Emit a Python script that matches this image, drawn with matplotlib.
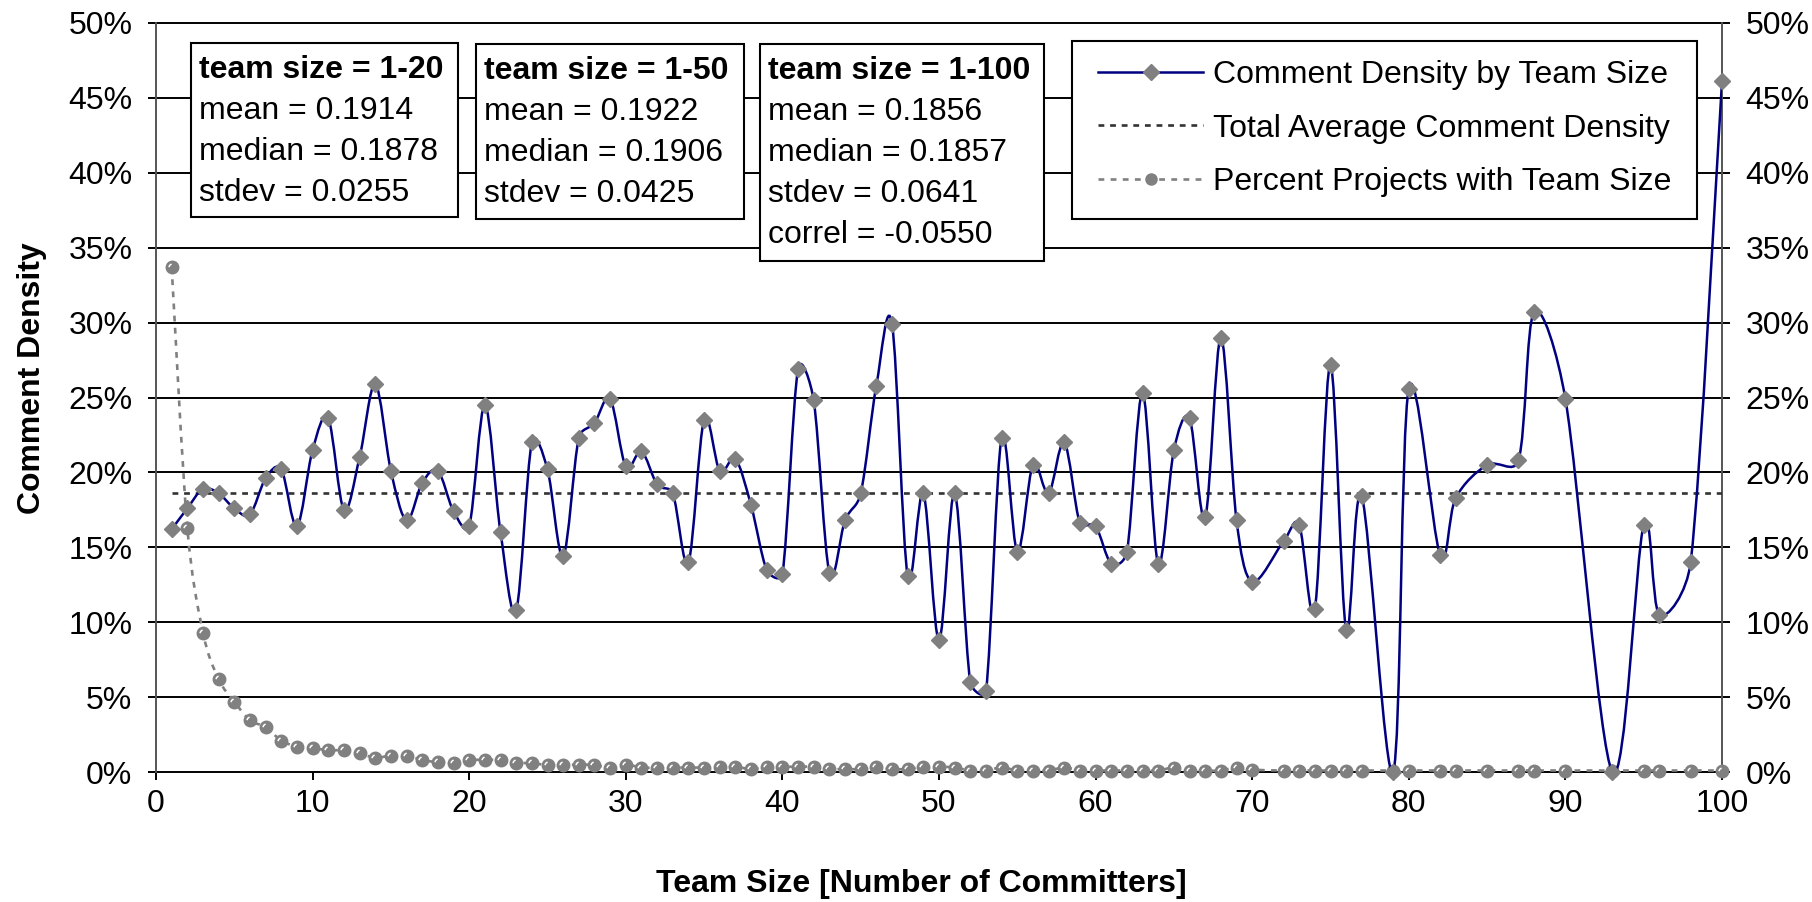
import matplotlib
matplotlib.use("Agg")
import matplotlib.pyplot as plt
import numpy as np
from matplotlib.path import Path
from matplotlib.patches import PathPatch, Rectangle
from matplotlib.lines import Line2D
from matplotlib.ticker import FuncFormatter

plt.rcParams['font.family'] = ['Liberation Sans', 'DejaVu Sans']

# Datos (densidad y porcentaje en %)
team_size = list(range(1, 71)) + [72, 73, 74, 75, 76, 77, 79, 80, 82, 83, 85,
                                   87, 88, 90, 93, 95, 96, 98, 100]

comment_density = [
    16.2, 17.6, 18.9, 18.6, 17.6, 17.2, 19.6, 20.2, 16.4, 21.5,
    23.6, 17.5, 21.0, 25.9, 20.1, 16.8, 19.3, 20.1, 17.4, 16.4,
    24.5, 16.0, 10.8, 22.0, 20.2, 14.4, 22.3, 23.3, 24.9, 20.4,
    21.4, 19.2, 18.6, 14.0, 23.5, 20.1, 20.9, 17.8, 13.5, 13.2,
    26.9, 24.8, 13.3, 16.8, 18.6, 25.8, 29.9, 13.1, 18.6, 8.8,
    18.6, 6.0, 5.4, 22.3, 14.7, 20.5, 18.6, 22.0, 16.6, 16.4,
    13.9, 14.7, 25.3, 13.9, 21.5, 23.6, 17.0, 29.0, 16.8, 12.7,
    15.4, 16.5, 10.9, 27.2, 9.5, 18.4, 0.0, 25.6, 14.5, 18.3,
    20.5, 20.8, 30.7, 24.9, 0.0, 16.5, 10.5, 14.0, 46.1,
]

pct_projects = [
    33.7, 16.3, 9.3, 6.2, 4.7, 3.45, 3.0, 2.1, 1.7, 1.6,
    1.45, 1.45, 1.25, 0.95, 1.1, 1.1, 0.8, 0.65, 0.6, 0.8,
    0.8, 0.8, 0.6, 0.6, 0.45, 0.45, 0.5, 0.45, 0.3, 0.5,
    0.3, 0.3, 0.3, 0.3, 0.3, 0.35, 0.35, 0.2, 0.35, 0.35,
    0.35, 0.35, 0.2, 0.2, 0.2, 0.35, 0.2, 0.2, 0.35, 0.35,
    0.3, 0.1, 0.1, 0.3, 0.1, 0.1, 0.1, 0.3, 0.1, 0.1,
    0.1, 0.1, 0.1, 0.1, 0.3, 0.1, 0.1, 0.1, 0.3, 0.15,
    0.1, 0.1, 0.1, 0.1, 0.1, 0.1, 0.1, 0.1, 0.1, 0.1,
    0.1, 0.1, 0.1, 0.1, 0.1, 0.1, 0.1, 0.1, 0.1,
]

avg_density = 18.64

legend_labels = ["Comment Density by Team Size",
                 "Total Average Comment Density",
                 "Percent Projects with Team Size"]

stat_titles = ["team size = 1-20", "team size = 1-50", "team size = 1-100"]
stat_lines = [
    ["mean = 0.1914", "median = 0.1878", "stdev = 0.0255"],
    ["mean = 0.1922", "median = 0.1906", "stdev = 0.0425"],
    ["mean = 0.1856", "median = 0.1857", "stdev = 0.0641", "correl = -0.0550"],
]

W, H = 1812, 902
FS = 23
SX, SY = 15.66, 14.98   # pixeles por unidad en x y por 1% en y


def curva_suave(x, y):
    # bezier tipo Excel: brazo = tangente/6, limitado a la mitad del tramo
    p = np.column_stack([np.asarray(x, float), np.asarray(y, float)])
    esc = np.array([SX, SY])
    n = len(p)
    verts = [tuple(p[0])]
    codes = [Path.MOVETO]
    for i in range(n - 1):
        a = p[i - 1] if i > 0 else p[i]
        d = p[i + 2] if i < n - 2 else p[i + 1]
        tramo = np.hypot(*((p[i + 1] - p[i]) * esc))
        b1 = (p[i + 1] - a) / 6
        b2 = (d - p[i]) / 6
        for b in (b1, b2):
            lb = np.hypot(*(b * esc))
            if lb > tramo / 2 and lb > 0:
                b *= (tramo / 2) / lb
        verts += [tuple(p[i] + b1), tuple(p[i + 1] - b2), tuple(p[i + 1])]
        codes += [Path.CURVE4] * 3
    return Path(verts, codes)


def fx(px):
    return px / W


def fy(py):
    return 1 - py / H


# marcador de brillo para los circulos
ang = np.linspace(np.radians(105), np.radians(175), 8)
brillo = Path([(-1, -1), (1, 1)] + list(zip(0.55 * np.cos(ang), 0.55 * np.sin(ang))),
              [Path.MOVETO, Path.MOVETO, Path.MOVETO] + [Path.LINETO] * 7)

fig = plt.figure(figsize=(W / 100, H / 100), dpi=100)
ax = fig.add_axes([fx(156), fy(772), fx(1722) - fx(156), fy(23) - fy(772)])

ax.set_xlim(0, 100)
ax.set_ylim(0, 50)

# lineas horizontales
for v in range(0, 55, 5):
    ax.axhline(v, color='black', lw=1.4, zorder=1, clip_on=False)

# porcentaje de proyectos
ax.add_patch(PathPatch(curva_suave(team_size, pct_projects), fill=False,
                       edgecolor='#808080', lw=1.9, linestyle=(0, (2.2, 2.4)),
                       zorder=3))
ax.plot(team_size, pct_projects, 'o', color='#808080', ms=9, mec='#808080',
        zorder=4, clip_on=False)
ax.plot(team_size, pct_projects, linestyle='none', marker=brillo, ms=9,
        mfc='none', mec='white', mew=1.1, zorder=4.5, clip_on=False)

# promedio total
ax.plot([1, 100], [avg_density, avg_density], color='#333333', lw=1.9,
        dashes=(2.2, 2.2), zorder=4)

# densidad de comentarios
ax.add_patch(PathPatch(curva_suave(team_size, comment_density), fill=False,
                       edgecolor='#000080', lw=1.8, zorder=5))
ax.plot(team_size, comment_density, 'D', color='#808080', ms=8,
        mec='#808080', zorder=6, clip_on=False)

for s in ['top', 'bottom']:
    ax.spines[s].set_visible(False)
for s in ['left', 'right']:
    ax.spines[s].set_color('#555555')
    ax.spines[s].set_linewidth(1.4)

ax.set_xticks(range(0, 101, 10))
ax.set_yticks(range(0, 51, 5))
ax.yaxis.set_major_formatter(FuncFormatter(lambda v, p: f"{int(v)}%"))
ax.tick_params(axis='y', which='both', direction='out', length=6, width=1.4,
               left=True, right=True, labelleft=True, labelright=True,
               labelsize=FS, pad=11)
ax.tick_params(axis='x', direction='out', length=6, width=1.4,
               labelsize=FS, pad=6)

fig.text(fx(32), fy(378), "Comment Density", rotation=90, fontsize=FS,
         fontweight='bold', ha='center', va='center')
fig.text(fx(921), fy(884), "Team Size [Number of Committers]", fontsize=FS,
         fontweight='bold', ha='center', va='center')

# cajas de estadisticas
cajas = [(191, 458, 43, 217), (476, 744, 44, 219), (760, 1044, 44, 261)]
for (x0, x1, y0, y1), titulo, lineas in zip(cajas, stat_titles, stat_lines):
    fig.patches.append(Rectangle((fx(x0), fy(y1)), fx(x1) - fx(x0),
                                 fy(y0) - fy(y1), transform=fig.transFigure,
                                 facecolor='white', edgecolor='black', lw=1.5,
                                 zorder=10))
    base = y0 + 35
    fig.text(fx(x0 + 8), fy(base), titulo, fontsize=FS, fontweight='bold',
             va='baseline', zorder=11)
    for k, t in enumerate(lineas):
        fig.text(fx(x0 + 8), fy(base + 41 * (k + 1)), t, fontsize=FS,
                 va='baseline', zorder=11)

# leyenda con marco propio
fig.patches.append(Rectangle((fx(1072), fy(219)), fx(1697) - fx(1072),
                             fy(41) - fy(219), transform=fig.transFigure,
                             facecolor='white', edgecolor='black', lw=1.5,
                             zorder=10))
handles = [
    Line2D([], [], color='#000080', lw=1.8, marker='D', ms=8,
           mfc='#808080', mec='#808080'),
    Line2D([], [], color='#333333', lw=1.9, dashes=(2.2, 2.2)),
    Line2D([], [], color='#808080', lw=1.9, dashes=(2.2, 2.4), marker='o',
           ms=8, mfc='#808080', mec='#808080'),
]
leg = fig.legend(handles, legend_labels, loc='upper left',
                 bbox_to_anchor=(fx(1098), fy(60)),
                 bbox_transform=fig.transFigure,
                 fontsize=FS, frameon=False, numpoints=1,
                 handlelength=3.3, handletextpad=0.3, labelspacing=0.74,
                 borderpad=0, borderaxespad=0)
leg.set_zorder(11)

fig.savefig("out.png", dpi=100)
